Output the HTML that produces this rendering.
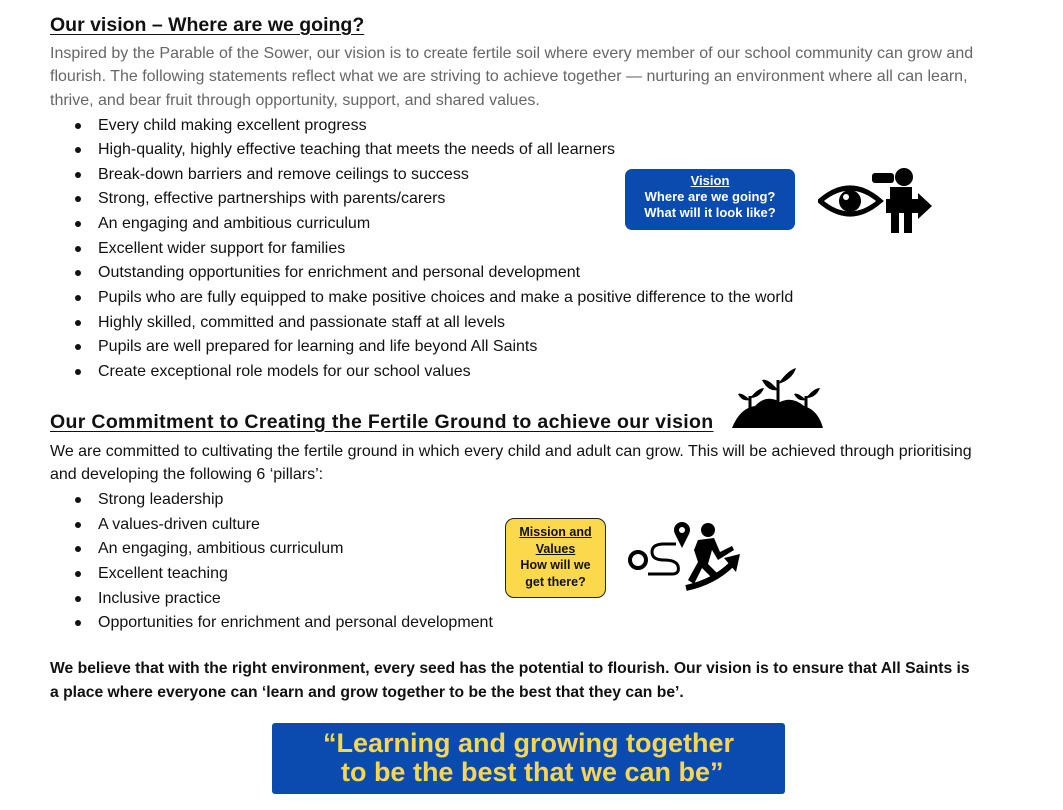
<!DOCTYPE html>
<html><head><meta charset="utf-8"><style>
body{margin:0;width:1063px;height:810px;background:#fff;font-family:"Liberation Sans",sans-serif;color:#111;position:relative;overflow:hidden}
.t{position:absolute;white-space:nowrap;font-size:16px;line-height:18px}
.h{font-size:19.5px;font-weight:bold;text-decoration:underline;text-underline-offset:3px}
.g{color:#666}
.b{left:98px}
.d{position:absolute;left:75px;width:6px;height:6px;border-radius:50%;background:#111}
.bold{font-weight:bold;font-size:15.7px}
</style></head><body>
<div class="t h" style="left:50px;top:16px">Our vision – Where are we going?</div>
<div class="t g" style="left:50px;top:45px">Inspired by the Parable of the Sower, our vision is to create fertile soil where every member of our school community can grow and</div>
<div class="t g" style="left:50px;top:68px">flourish. The following statements reflect what we are striving to achieve together — nurturing an environment where all can learn,</div>
<div class="t g" style="left:50px;top:92px">thrive, and bear fruit through opportunity, support, and shared values.</div>

<div class="d" style="top:123px"></div><div class="t b" style="top:117px">Every child making excellent progress</div>
<div class="d" style="top:147px"></div><div class="t b" style="top:141px">High-quality, highly effective teaching that meets the needs of all learners</div>
<div class="d" style="top:172px"></div><div class="t b" style="top:166px">Break-down barriers and remove ceilings to success</div>
<div class="d" style="top:196px"></div><div class="t b" style="top:190px">Strong, effective partnerships with parents/carers</div>
<div class="d" style="top:221px"></div><div class="t b" style="top:215px">An engaging and ambitious curriculum</div>
<div class="d" style="top:246px"></div><div class="t b" style="top:240px">Excellent wider support for families</div>
<div class="d" style="top:270px"></div><div class="t b" style="top:264px">Outstanding opportunities for enrichment and personal development</div>
<div class="d" style="top:295px"></div><div class="t b" style="top:289px">Pupils who are fully equipped to make positive choices and make a positive difference to the world</div>
<div class="d" style="top:320px"></div><div class="t b" style="top:314px">Highly skilled, committed and passionate staff at all levels</div>
<div class="d" style="top:344px"></div><div class="t b" style="top:338px">Pupils are well prepared for learning and life beyond All Saints</div>
<div class="d" style="top:369px"></div><div class="t b" style="top:363px">Create exceptional role models for our school values</div>

<div style="position:absolute;left:625px;top:169px;width:170px;height:61px;background:#0a4bb0;border-radius:7px;color:#fff;font-weight:bold;font-size:13px;line-height:16px;text-align:center;padding-top:4px;box-sizing:border-box"><u>Vision</u><br>Where are we going?<br>What will it look like?</div>
<svg style="position:absolute;left:818px;top:165px" width="118" height="72" viewBox="0 0 118 72">
<path d="M2 36 Q32 10 62 36 Q32 62 2 36Z" fill="none" stroke="#000" stroke-width="5"/>
<circle cx="32" cy="36" r="11" fill="#000"/><circle cx="28" cy="32" r="3" fill="#fff"/>
<rect x="54" y="8" width="22" height="10" rx="3" fill="#000"/>
<circle cx="86" cy="12" r="9" fill="#000"/>
<rect x="72" y="22" width="22" height="22" fill="#000"/>
<rect x="68" y="34" width="34" height="14" fill="#000"/>
<polygon points="100,28 114,41 100,54" fill="#000"/>
<rect x="73" y="46" width="8" height="22" fill="#000"/><rect x="86" y="46" width="8" height="22" fill="#000"/>
</svg>

<svg style="position:absolute;left:730px;top:366px" width="95" height="64" viewBox="0 0 95 64">
<path d="M2 62 Q10 42 25 40 Q36 28 50 36 Q62 30 74 40 Q88 44 93 62Z" fill="#000"/>
<path d="M48 36 V14" stroke="#000" stroke-width="3"/><path d="M48 18 Q58 4 66 2 Q62 14 48 18Z" fill="#000"/><path d="M48 24 Q38 12 32 14 Q38 26 48 24Z" fill="#000"/>
<path d="M20 44 V30" stroke="#000" stroke-width="3"/><path d="M20 32 Q28 22 34 22 Q30 32 20 32Z" fill="#000"/><path d="M20 34 Q12 26 8 28 Q12 36 20 34Z" fill="#000"/>
<path d="M76 44 V30" stroke="#000" stroke-width="3"/><path d="M76 32 Q84 22 90 22 Q86 32 76 32Z" fill="#000"/><path d="M76 34 Q68 26 64 28 Q68 36 76 34Z" fill="#000"/>
</svg>

<div class="t h" style="left:50px;top:413px;letter-spacing:0.33px">Our Commitment to Creating the Fertile Ground to achieve our vision</div>
<div class="t" style="left:50px;top:443px">We are committed to cultivating the fertile ground in which every child and adult can grow. This will be achieved through prioritising</div>
<div class="t" style="left:50px;top:466px">and developing the following 6 ‘pillars’:</div>

<div class="d" style="top:497px"></div><div class="t b" style="top:491px">Strong leadership</div>
<div class="d" style="top:522px"></div><div class="t b" style="top:516px">A values-driven culture</div>
<div class="d" style="top:546px"></div><div class="t b" style="top:540px">An engaging, ambitious curriculum</div>
<div class="d" style="top:571px"></div><div class="t b" style="top:565px">Excellent teaching</div>
<div class="d" style="top:596px"></div><div class="t b" style="top:590px">Inclusive practice</div>
<div class="d" style="top:620px"></div><div class="t b" style="top:614px">Opportunities for enrichment and personal development</div>

<div style="position:absolute;left:505px;top:518px;width:101px;height:80px;background:#fcd84c;border:1.5px solid #222;border-radius:9px;box-sizing:border-box;font-weight:bold;font-size:12.5px;line-height:16.5px;text-align:center;padding-top:5px;color:#111"><u>Mission and</u><br><u>Values</u><br>How will we<br>get there?</div>
<svg style="position:absolute;left:628px;top:520px" width="112" height="72" viewBox="0 0 112 72">
<circle cx="10" cy="40" r="8" fill="none" stroke="#000" stroke-width="4"/>
<path d="M20 54 H44 Q52 54 50 46 Q48 40 36 40 Q24 40 24 32 Q24 24 36 24 H48" fill="none" stroke="#000" stroke-width="3"/>
<circle cx="54" cy="10" r="8" fill="#000"/><circle cx="54" cy="10" r="3" fill="#fff"/><polygon points="47,14 61,14 54,28" fill="#000"/>
<circle cx="80" cy="10" r="7" fill="#000"/>
<path d="M70 20 L86 18 L92 32 L104 26 L106 30 L90 40 L84 30 L80 44 L90 54 L86 60 L74 48 L66 64 L60 60 L70 42 L66 30Z" fill="#000"/>
<path d="M58 68 Q86 62 104 44" fill="none" stroke="#000" stroke-width="6"/>
<polygon points="96,38 112,34 108,52" fill="#000"/>
</svg>

<div class="t bold" style="left:50px;top:660px">We believe that with the right environment, every seed has the potential to flourish. Our vision is to ensure that All Saints is</div>
<div class="t bold" style="left:50px;top:684px">a place where everyone can ‘learn and grow together to be the best that they can be’.</div>

<div style="position:absolute;left:272px;top:723px;width:513px;height:71px;background:#0a4bb0;border-radius:3px;color:#f7d654;font-weight:bold;font-size:27px;line-height:29px;text-align:center;padding-top:6px;box-sizing:border-box">“Learning and growing together<br>&nbsp;to be the best that we can be”</div>
</body></html>
